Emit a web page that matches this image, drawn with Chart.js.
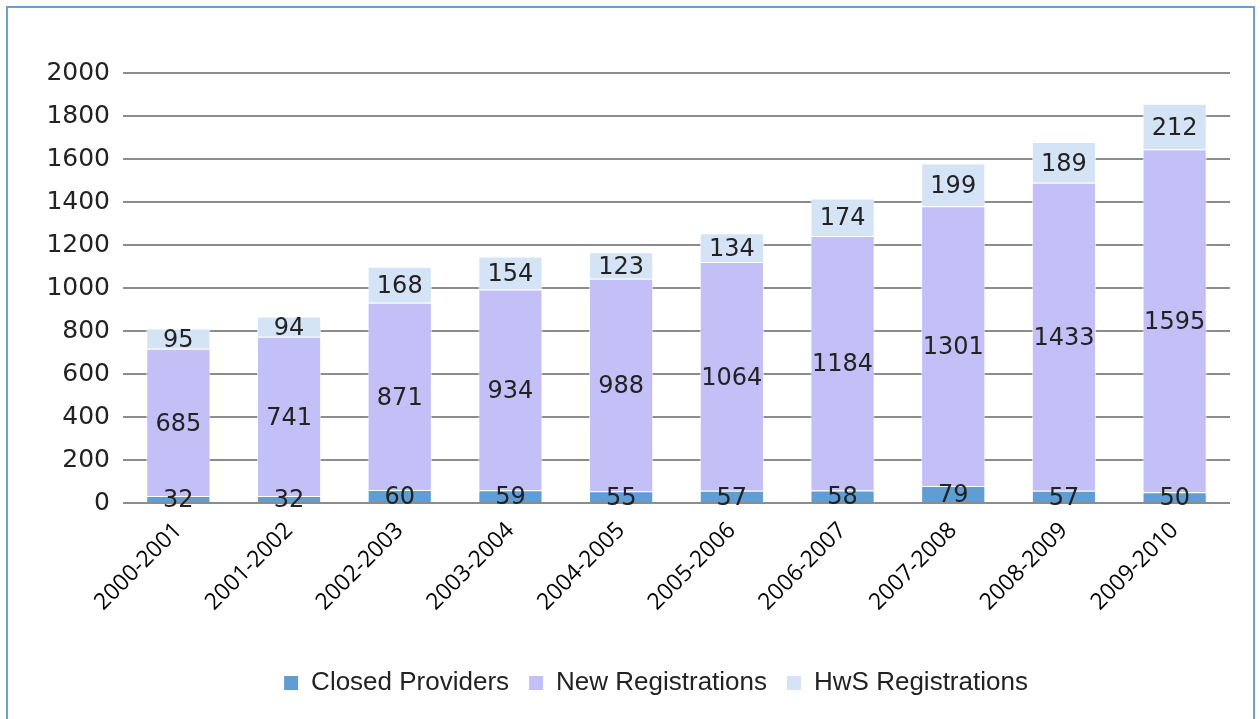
<!DOCTYPE html>
<html>
<head>
<meta charset="utf-8">
<script src="https://cdn.jsdelivr.net/npm/chart.js@4.4.1/dist/chart.umd.min.js"></script>
<style>
  html, body { margin: 0; padding: 0; background: #fff; overflow: hidden; }
  #marco {
    position: absolute; left: 6px; top: 6px; width: 1249px; height: 760px;
    border: 2px solid #6a9fd4; box-sizing: border-box;
  }
  #grafico { position: absolute; left: 0; top: 0; }
</style>
</head>
<body>
<div id="marco"></div>
<canvas id="grafico" width="1260" height="719"></canvas>
<script>
const periodos = ['2000-2001', '2001-2002', '2002-2003', '2003-2004', '2004-2005',
  '2005-2006', '2006-2007', '2007-2008', '2008-2009', '2009-2010'];
const proveedoresCerrados = [32, 32, 60, 59, 55, 57, 58, 79, 57, 50];
const nuevosRegistros = [685, 741, 871, 934, 988, 1064, 1184, 1301, 1433, 1595];
const registrosHws = [95, 94, 168, 154, 123, 134, 174, 199, 189, 212];
const ticksY = [0, 200, 400, 600, 800, 1000, 1200, 1400, 1600, 1800, 2000];

const fuenteNumeros = '"DejaVu Sans", sans-serif';

// etiquetas de valor en el centro de cada segmento
const etiquetas = {
  id: 'etiquetas',
  afterDatasetsDraw(chart) {
    const ctx = chart.ctx;
    ctx.save();
    ctx.font = '24px ' + fuenteNumeros;
    ctx.fillStyle = '#222';
    ctx.textAlign = 'center';
    ctx.textBaseline = 'middle';
    chart.data.datasets.forEach((ds, i) => {
      const meta = chart.getDatasetMeta(i);
      meta.data.forEach((barra, j) => {
        const p = barra.getProps(['x', 'y', 'base'], true);
        ctx.fillText(ds.data[j], p.x, (p.y + p.base) / 2 + 2);
      });
    });
    ctx.restore();
  }
};

// la leyenda va algo corrida a la derecha, como en el original
const moverLeyenda = {
  id: 'moverLeyenda',
  afterLayout(chart) {
    chart.legend.left += 82;
  }
};

new Chart(document.getElementById('grafico'), {
  type: 'bar',
  data: {
    labels: periodos,
    datasets: [
      { label: 'Closed Providers', data: proveedoresCerrados, backgroundColor: '#5f9dd2' },
      { label: 'New Registrations', data: nuevosRegistros, backgroundColor: '#c3bff7' },
      { label: 'HwS Registrations', data: registrosHws, backgroundColor: '#d4e4f6' }
    ].map(d => Object.assign(d, {
      borderColor: 'rgba(255,255,255,0.7)',
      borderWidth: 1,
      barPercentage: 0.58,
      categoryPercentage: 1
    }))
  },
  options: {
    responsive: false,
    animation: false,
    layout: { padding: { left: 0, right: 30, top: 73, bottom: 13 } },
    plugins: {
      tooltip: { enabled: false },
      legend: {
        position: 'bottom',
        labels: {
          boxWidth: 14,
          boxHeight: 14,
          padding: 20,
          color: '#222',
          font: { family: '"Liberation Sans", sans-serif', size: 26 },
          generateLabels(chart) {
            return chart.data.datasets.map((ds, i) => ({
              text: ds.label,
              fillStyle: ds.backgroundColor,
              strokeStyle: ds.backgroundColor,
              lineWidth: 0,
              fontColor: '#222',
              datasetIndex: i
            }));
          }
        }
      }
    },
    scales: {
      x: {
        stacked: true,
        grid: { display: false },
        border: { display: false },
        ticks: {
          color: '#000',
          font: { family: '"Open Sans", sans-serif', size: 23 },
          maxRotation: 45,
          minRotation: 45,
          padding: 6
        },
        afterFit(scale) { scale.height = 147; }
      },
      y: {
        stacked: true,
        min: 0,
        max: 2000,
        afterBuildTicks(scale) { scale.ticks = ticksY.map(v => ({ value: v })); },
        grid: { color: '#8c8c8c', lineWidth: 2, drawTicks: false },
        border: { display: false },
        ticks: {
          color: '#222',
          padding: 13,
          font: { family: fuenteNumeros, size: 25 },
          callback: v => String(v)
        },
        afterFit(scale) { scale.width = 123; }
      }
    }
  },
  plugins: [etiquetas, moverLeyenda]
});
</script>
</body>
</html>
